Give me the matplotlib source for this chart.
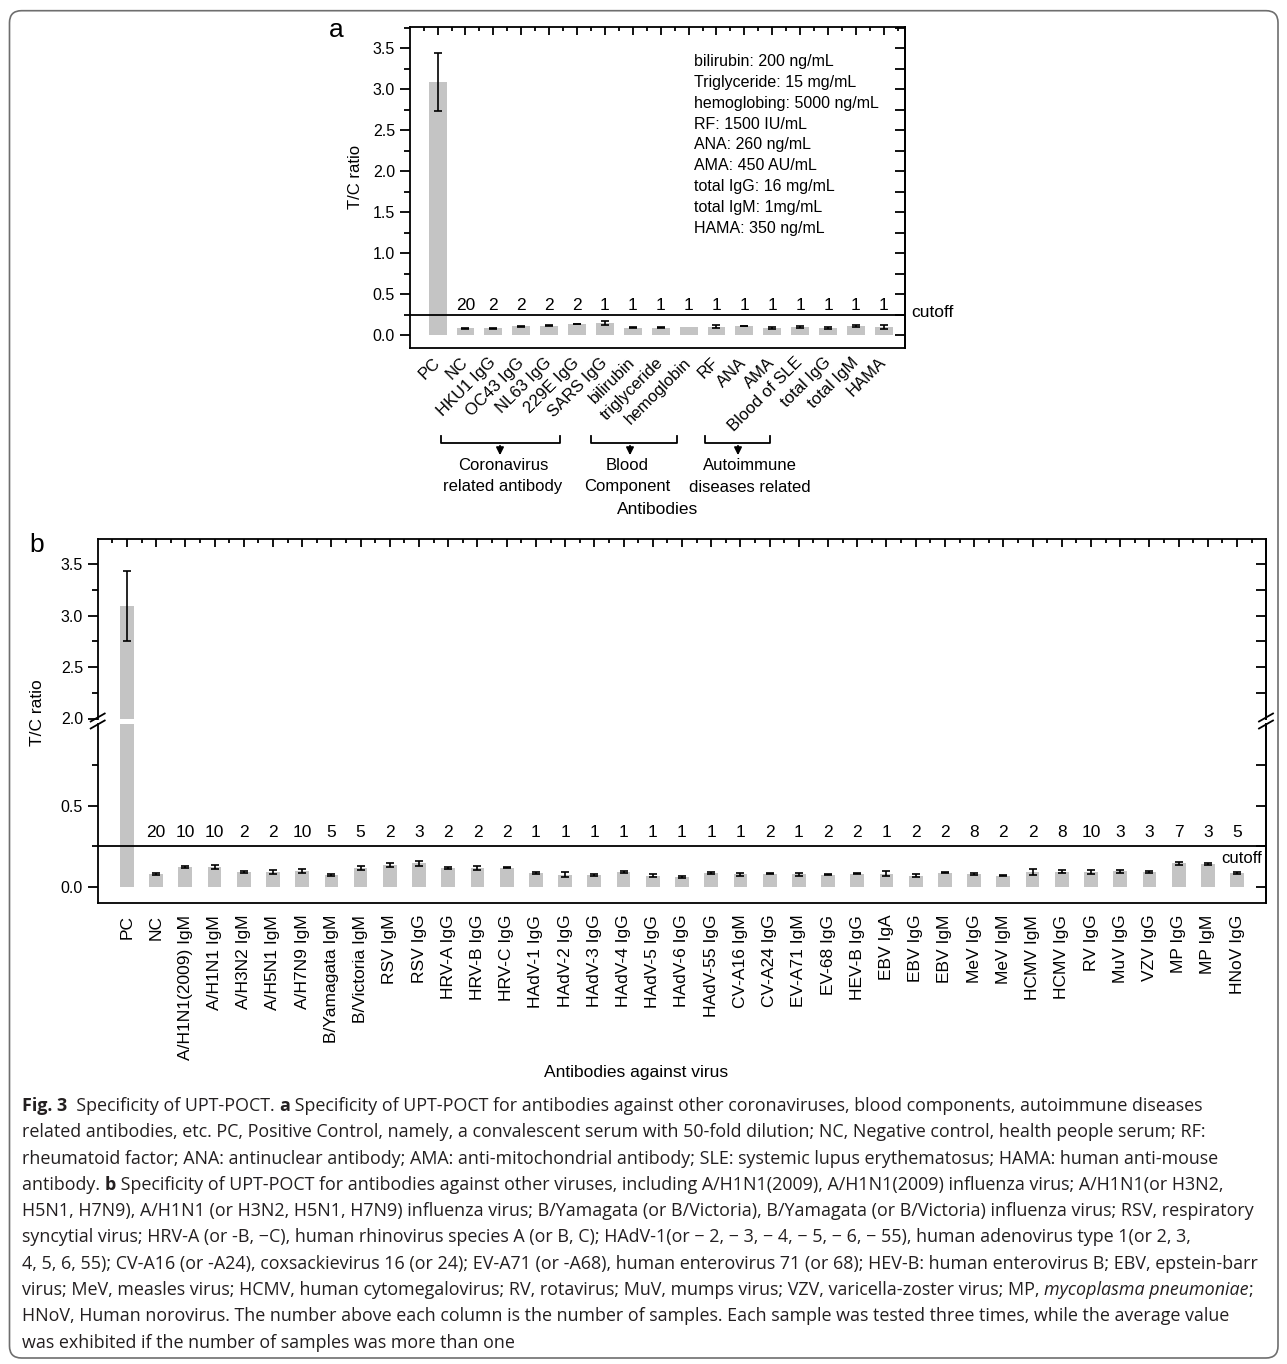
import numpy as np
import matplotlib
matplotlib.use('Agg')
import matplotlib.pyplot as plt
from matplotlib.ticker import FixedLocator
from matplotlib.transforms import IdentityTransform, blended_transform_factory
from matplotlib.patches import FancyBboxPatch
from matplotlib.lines import Line2D
from matplotlib import font_manager

W, H = 1287, 1364

# --- panel a data ---
a_labels = ['PC', 'NC', 'HKU1 IgG', 'OC43 IgG', 'NL63 IgG', '229E IgG', 'SARS IgG',
            'bilirubin', 'triglyceride', 'hemoglobin', 'RF', 'ANA', 'AMA',
            'Blood of SLE', 'total IgG', 'total IgM', 'HAMA']
a_means = [3.09, 0.081, 0.081, 0.106, 0.114, 0.134, 0.145, 0.090, 0.090, 0.098,
           0.100, 0.110, 0.085, 0.100, 0.085, 0.110, 0.094]
a_errs = [0.35, 0.006, 0.006, 0.006, 0.004, 0.004, 0.022, 0.007, 0.009, 0.0,
          0.020, 0.005, 0.015, 0.010, 0.012, 0.014, 0.024]
a_counts = [20, 2, 2, 2, 2, 1, 1, 1, 1, 1, 1, 1, 1, 1, 1, 1]
a_inset = ['bilirubin: 200 ng/mL', 'Triglyceride: 15 mg/mL', 'hemoglobing: 5000 ng/mL',
           'RF: 1500 IU/mL', 'ANA: 260 ng/mL', 'AMA: 450 AU/mL', 'total IgG: 16 mg/mL',
           'total IgM: 1mg/mL', 'HAMA: 350 ng/mL']
a_groups = [('Coronavirus', 'related antibody'), ('Blood', 'Component'),
            ('Autoimmune', 'diseases related')]

# --- panel b data ---
b_labels = ['PC', 'NC', 'A/H1N1(2009) IgM', 'A/H1N1 IgM', 'A/H3N2 IgM', 'A/H5N1 IgM',
            'A/H7N9 IgM', 'B/Yamagata IgM', 'B/Victoria IgM', 'RSV IgM', 'RSV IgG',
            'HRV-A IgG', 'HRV-B IgG', 'HRV-C IgG', 'HAdV-1 IgG', 'HAdV-2 IgG',
            'HAdV-3 IgG', 'HAdV-4 IgG', 'HAdV-5 IgG', 'HAdV-6 IgG', 'HAdV-55 IgG',
            'CV-A16 IgM', 'CV-A24 IgG', 'EV-A71 IgM', 'EV-68 IgG', 'HEV-B IgG',
            'EBV IgA', 'EBV IgG', 'EBV IgM', 'MeV IgG', 'MeV IgM', 'HCMV IgM',
            'HCMV IgG', 'RV IgG', 'MuV IgG', 'VZV IgG', 'MP IgG', 'MP IgM', 'HNoV IgG']
b_means = [3.09, 0.078, 0.123, 0.123, 0.092, 0.092, 0.100, 0.072, 0.117, 0.137, 0.145,
           0.117, 0.117, 0.119, 0.086, 0.075, 0.072, 0.092, 0.070, 0.063, 0.086,
           0.078, 0.082, 0.078, 0.076, 0.082, 0.082, 0.070, 0.088, 0.078, 0.070,
           0.092, 0.094, 0.092, 0.096, 0.094, 0.145, 0.143, 0.088]
b_errs = [0.34, 0.006, 0.006, 0.010, 0.006, 0.010, 0.012, 0.005, 0.010, 0.012, 0.016,
          0.004, 0.010, 0.004, 0.005, 0.016, 0.005, 0.006, 0.010, 0.006, 0.005,
          0.010, 0.004, 0.010, 0.004, 0.004, 0.014, 0.010, 0.005, 0.006, 0.004,
          0.016, 0.010, 0.010, 0.010, 0.006, 0.010, 0.006, 0.007]
b_counts = [20, 10, 10, 2, 2, 10, 5, 5, 2, 3, 2, 2, 2, 1, 1, 1, 1, 1, 1, 1, 1,
            2, 1, 2, 2, 1, 2, 2, 8, 2, 2, 8, 10, 3, 3, 7, 3, 5]

cutoff = 0.25

caption = [
    [('Fig. 3', 'bold', 'normal'), ('  Specificity of UPT-POCT. ', 'normal', 'normal'), ('a', 'bold', 'normal'),
     (' Specificity of UPT-POCT for antibodies against other coronaviruses, blood components, autoimmune diseases', 'normal', 'normal')],
    [('related antibodies, etc. PC, Positive Control, namely, a convalescent serum with 50-fold dilution; NC, Negative control, health people serum; RF:', 'normal', 'normal')],
    [('rheumatoid factor; ANA: antinuclear antibody; AMA: anti-mitochondrial antibody; SLE: systemic lupus erythematosus; HAMA: human anti-mouse', 'normal', 'normal')],
    [('antibody. ', 'normal', 'normal'), ('b', 'bold', 'normal'),
     (' Specificity of UPT-POCT for antibodies against other viruses, including A/H1N1(2009), A/H1N1(2009) influenza virus; A/H1N1(or H3N2,', 'normal', 'normal')],
    [('H5N1, H7N9), A/H1N1 (or H3N2, H5N1, H7N9) influenza virus; B/Yamagata (or B/Victoria), B/Yamagata (or B/Victoria) influenza virus; RSV, respiratory', 'normal', 'normal')],
    [('syncytial virus; HRV-A (or -B, \u2212C), human rhinovirus species A (or B, C); HAdV-1(or \u2212 2, \u2212 3, \u2212 4, \u2212 5, \u2212 6, \u2212 55), human adenovirus type 1(or 2, 3,', 'normal', 'normal')],
    [('4, 5, 6, 55); CV-A16 (or -A24), coxsackievirus 16 (or 24); EV-A71 (or -A68), human enterovirus 71 (or 68); HEV-B: human enterovirus B; EBV, epstein-barr', 'normal', 'normal')],
    [('virus; MeV, measles virus; HCMV, human cytomegalovirus; RV, rotavirus; MuV, mumps virus; VZV, varicella-zoster virus; MP, ', 'normal', 'normal'),
     ('mycoplasma pneumoniae', 'normal', 'italic'), (';', 'normal', 'normal')],
    [('HNoV, Human norovirus. The number above each column is the number of samples. Each sample was tested three times, while the average value', 'normal', 'normal')],
    [('was exhibited if the number of samples was more than one', 'normal', 'normal')],
]

names = {f.name for f in font_manager.fontManager.ttflist}
sans = 'Liberation Sans' if 'Liberation Sans' in names else 'DejaVu Sans'
capfont = 'Open Sans' if 'Open Sans' in names else sans
plt.rcParams['font.family'] = [sans, 'DejaVu Sans']

GRAY = '#c4c4c4'
LW = 1.3

fig = plt.figure(figsize=(W / 100, H / 100), dpi=100)
PIX = IdentityTransform()


def add_ax(l, t, r, b):
    return fig.add_axes([l / W, 1 - b / H, (r - l) / W, (b - t) / H])


def ptext(x, y, s, **kw):
    return fig.text(x, H - y, s, transform=PIX, **kw)


def pline(xs, ys, **kw):
    fig.add_artist(Line2D(xs, [H - y for y in ys], transform=PIX, color='k', lw=LW, **kw))


def draw_bars(ax, means, errs, width):
    x = np.arange(len(means))
    means = np.asarray(means)
    errs = np.asarray(errs)
    ax.bar(x, means, width, color=GRAY, zorder=1)
    m = errs > 0
    ax.errorbar(x[m], means[m], yerr=errs[m], fmt='none', ecolor='k',
                elinewidth=1.2, capsize=3, capthick=1.2, zorder=3)


def right_ticks(ax, major, minor):
    sec = ax.secondary_yaxis('right')
    sec.yaxis.set_major_locator(FixedLocator(major))
    sec.yaxis.set_minor_locator(FixedLocator(minor))
    sec.tick_params(which='both', direction='in', labelright=False, width=LW, length=7)
    sec.spines['right'].set_linewidth(LW)
    return sec


# ================= panel a =================
axa = add_ax(409.7, 27.3, 905, 347.7)
na = len(a_labels)
draw_bars(axa, a_means, a_errs, 0.64)
axa.axhline(cutoff, color='k', lw=LW, zorder=2)
axa.set_xlim(-1, na - 0.24)
axa.set_ylim(-0.155, 3.756)
axa.set_yticks(np.arange(0, 3.51, 0.5))
axa.yaxis.set_minor_locator(FixedLocator(np.arange(-0.25, 3.8, 0.25)))
axa.yaxis.set_major_formatter(plt.FuncFormatter(lambda v, p: f'{v:.1f}'))
axa.tick_params(axis='y', which='both', direction='out', width=LW, labelsize=11.5, right=False)
axa.tick_params(axis='y', which='major', length=7)
axa.tick_params(axis='y', which='minor', length=4)
axa.set_xticks(np.arange(na))
axa.set_xticklabels(a_labels, rotation=45, ha='right', va='center', rotation_mode='anchor', fontsize=12)
axa.xaxis.set_minor_locator(FixedLocator(np.arange(-0.5, na, 1)))
axa.tick_params(axis='x', which='both', direction='in', top=True, bottom=False, width=LW, pad=9)
axa.tick_params(axis='x', which='major', length=6)
axa.tick_params(axis='x', which='minor', length=3)
for s in axa.spines.values():
    s.set_linewidth(LW)
right_ticks(axa, np.arange(0, 3.51, 0.5), np.arange(-0.25, 3.8, 0.25))
for i, n in enumerate(a_counts):
    axa.text(i + 1, 0.366, str(n), ha='center', va='center', fontsize=12.5)
axa.text(1.012, 0.27, 'cutoff', transform=blended_transform_factory(axa.transAxes, axa.transData),
         ha='left', va='center', fontsize=12.5)
for i, s in enumerate(a_inset):
    ptext(694, 61.7 + 20.8 * i, s, ha='left', va='center', fontsize=11.5)

ptext(336, 30, 'a', ha='center', va='center', fontsize=19)
ptext(356, 177, 'T/C ratio', ha='center', va='center', rotation=90, fontsize=12)
ptext(658, 510, 'Antibodies', ha='center', va='center', fontsize=12.5)

# brackets under the group labels
brackets = [(441, 560, 500, 503), (591, 677, 630, 627), (705, 770, 738, 750)]
for (x0, x1, xa, xt), (l1, l2) in zip(brackets, a_groups):
    pline([x0, x0, x1, x1], [436, 443, 443, 436])
    fig.add_artist(matplotlib.patches.FancyArrowPatch((xa, H - 443), (xa, H - 458), transform=PIX,
                                                     arrowstyle='-|>', mutation_scale=11, color='k', lw=LW))
    ptext(xt, 465, l1, ha='center', va='center', fontsize=12)
    ptext(xt, 487, l2, ha='center', va='center', fontsize=12)

# ================= panel b =================
nb = len(b_labels)
L, R = 97.7, 1266
axu = add_ax(L, 539, R, 718.5)
axl = add_ax(L, 724, R, 903)
for ax in (axu, axl):
    draw_bars(ax, b_means, b_errs, 0.47)
    ax.set_xlim(-1, nb - 0.01)
    for s in ax.spines.values():
        s.set_linewidth(LW)
    ax.tick_params(axis='y', which='both', direction='out', width=LW, labelsize=11.5, right=False)
    ax.tick_params(axis='y', which='major', length=7)
    ax.tick_params(axis='y', which='minor', length=4)
    ax.yaxis.set_major_formatter(plt.FuncFormatter(lambda v, p: f'{v:.1f}'))

axu.set_ylim(2.0, 3.743)
axu.set_yticks([2.0, 2.5, 3.0, 3.5])
axu.yaxis.set_minor_locator(FixedLocator([2.25, 2.75, 3.25]))
axu.spines['bottom'].set_visible(False)
axu.set_xticks(np.arange(nb))
axu.xaxis.set_minor_locator(FixedLocator(np.arange(-0.5, nb, 1)))
axu.tick_params(axis='x', which='both', direction='in', top=True, bottom=False,
                labelbottom=False, width=LW)
axu.tick_params(axis='x', which='major', length=6)
axu.tick_params(axis='x', which='minor', length=3)
right_ticks(axu, [2.5, 3.0, 3.5], [2.25, 2.75, 3.25])

axl.set_ylim(-0.098, 1.0)
axl.set_yticks([0.0, 0.5])
axl.yaxis.set_minor_locator(FixedLocator([0.25, 0.75]))
axl.spines['top'].set_visible(False)
axl.axhline(cutoff, color='k', lw=LW, zorder=2)
axl.set_xticks(np.arange(nb))
axl.set_xticklabels(b_labels, rotation=90, fontsize=12.5)
axl.tick_params(axis='x', which='both', top=False, bottom=False, pad=5)
right_ticks(axl, [0.0, 0.5], [0.25, 0.75])
for i, n in enumerate(b_counts):
    axl.text(i + 1, 0.332, str(n), ha='center', va='center', fontsize=12.5)
axl.text(0.9966, 0.178, 'cutoff', transform=blended_transform_factory(axl.transAxes, axl.transData),
         ha='right', va='center', fontsize=12)

# axis break marks
for xs in (L, R):
    for yb in (717.5, 724.5):
        pline([xs - 7, xs + 7], [yb + 4, yb - 4])

ptext(37, 545, 'b', ha='center', va='center', fontsize=19)
ptext(38, 713, 'T/C ratio', ha='center', va='center', rotation=90, fontsize=12.5)
ptext(636, 1073, 'Antibodies against virus', ha='center', va='center', fontsize=12.5)

# ================= caption =================
renderer = fig.canvas.get_renderer()
cap_size = 12.9
for k, runs in enumerate(caption):
    x = 22
    y = 1111 + 26.3 * k
    for txt, wt, st in runs:
        t = ptext(x, y, txt, ha='left', va='baseline', fontsize=cap_size,
                  family=[capfont, 'DejaVu Sans'], fontweight=wt, fontstyle=st, color='#231f20')
        x = t.get_window_extent(renderer).x1

# outer frame
fig.add_artist(FancyBboxPatch((9.5, H - 1358), 1278 - 9.5, 1358 - 10.7, transform=PIX,
                              boxstyle='round,pad=0,rounding_size=12', fc='none', ec='#6e6e6e', lw=1.2))

fig.savefig('out.png', dpi=100)
